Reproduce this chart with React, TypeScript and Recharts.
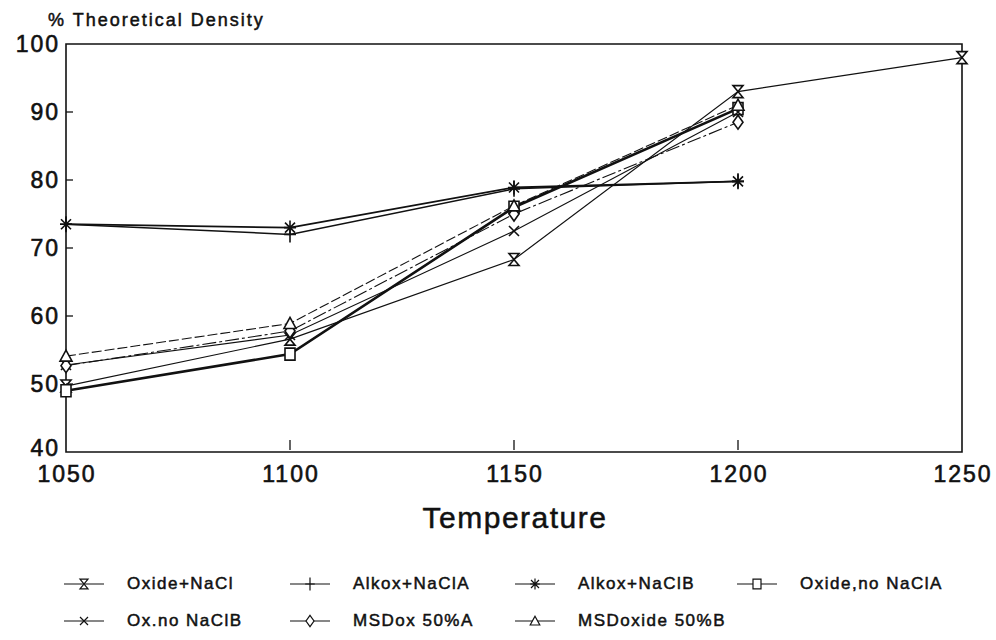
import { LineChart, Line, XAxis, YAxis, ReferenceArea } from "recharts";

const temps = [1050, 1100, 1150, 1200, 1250];
const yTicks = [40, 50, 60, 70, 80, 90, 100];

const oxideNaCl = [49.7, 56.6, 68.3, 93, 98];
const alkoxNaClA = [73.5, 72, 78.7, 79.8, null];
const alkoxNaClB = [73.5, 73, 78.9, 79.8, null];
const oxideNoNaClA = [49, 54.4, 76, 90.5, null];
const oxNoNaClB = [52.8, 57.2, 72.5, 90, null];
const msdox50A = [52.7, 57.8, 75, 88.5, null];
const msdoxide50B = [54.1, 58.9, 76.2, 91, null];

const seriesNames = [
  "Oxide+NaCl",
  "Alkox+NaClA",
  "Alkox+NaClB",
  "Oxide,no NaClA",
  "Ox.no NaClB",
  "MSDox 50%A",
  "MSDoxide 50%B",
];

const font = "'Liberation Sans', Arial, sans-serif";
const ink = "#111";

// marker glyphs, centred on 0,0
const markerPaths: Record<string, string> = {
  hourglass: "M-5,-6 L5,-6 L-5,6 L5,6 Z",
  plus: "M0,-8 V8 M-6,0 H6",
  star: "M0,-7 V7 M-6,0 H6 M-5,-5 L5,5 M-5,5 L5,-5",
  square: "M-5,-6 H5 V6 H-5 Z",
  cross: "M-5,-5 L5,5 M-5,5 L5,-5",
  diamond: "M0,-7 L5,0 L0,7 L-5,0 Z",
  triangle: "M0,-6 L6,5 L-6,5 Z",
};

const series = [
  { key: "oxideNaCl", values: oxideNaCl, marker: "hourglass", width: 1.2, dash: undefined },
  { key: "alkoxNaClA", values: alkoxNaClA, marker: "plus", width: 1.5, dash: undefined },
  { key: "alkoxNaClB", values: alkoxNaClB, marker: "star", width: 1.8, dash: undefined },
  { key: "oxideNoNaClA", values: oxideNoNaClA, marker: "square", width: 2.6, dash: undefined },
  { key: "oxNoNaClB", values: oxNoNaClB, marker: "cross", width: 1.1, dash: undefined },
  { key: "msdox50A", values: msdox50A, marker: "diamond", width: 1.1, dash: "14 3 3 3" },
  { key: "msdoxide50B", values: msdoxide50B, marker: "triangle", width: 1.1, dash: "10 3" },
];

const data = temps.map((t, i) => {
  const row: Record<string, number | null> = { temp: t };
  series.forEach((s) => (row[s.key] = s.values[i]));
  return row;
});

function makeDot(marker: string) {
  return (props: any) => {
    const { cx, cy, index, value } = props;
    if (value == null || cx == null || cy == null) return <g key={index} />;
    return (
      <path
        key={index}
        d={markerPaths[marker]}
        transform={`translate(${cx},${cy})`}
        fill="#fff"
        stroke={ink}
        strokeWidth={1.6}
      />
    );
  };
}

const tickText = { fontFamily: font, fontSize: 23, letterSpacing: 2, fill: ink, stroke: ink, strokeWidth: 0.6 };

function YTick(props: any) {
  const { x, y, payload } = props;
  const v = payload.value;
  return (
    <g>
      <text x={x + 2} y={y} dy={v === 40 ? 4 : 8} textAnchor="end" {...tickText}>
        {v}
      </text>
      {v > 40 && v < 100 && <line x1={x + 8} x2={x + 15} y1={y} y2={y} stroke={ink} strokeWidth={1.3} />}
    </g>
  );
}

function XTick(props: any) {
  const { x, y, payload } = props;
  const v = payload.value;
  return (
    <g>
      <text x={x + 1} y={y} dy={24} textAnchor="middle" {...tickText}>
        {v}
      </text>
      {v > 1050 && v < 1250 && <line x1={x} x2={x} y1={y - 8} y2={y - 18} stroke={ink} strokeWidth={1.3} />}
    </g>
  );
}

function LegendIcon({ marker }: { marker: string }) {
  return (
    <svg width={40} height={16} style={{ display: "block" }}>
      <line x1={0} x2={40} y1={8} y2={8} stroke={ink} strokeWidth={1.2} />
      <path d={markerPaths[marker]} transform="translate(20,8) scale(0.8)" fill="#fff" stroke={ink} strokeWidth={1.5} />
    </svg>
  );
}

const legendCols = [127, 353, 578, 800];
const heavy = { WebkitTextStroke: "0.5px #111" } as const;

export default function App() {
  return (
    <div style={{ position: "absolute", left: 0, top: 0, width: 996, height: 640, background: "#fff", fontFamily: font, color: ink }}>
      <div style={{ position: "absolute", left: 48, top: 10, fontSize: 18, letterSpacing: 2, ...heavy }}>% Theoretical Density</div>
      <LineChart width={996} height={640} data={data} margin={{ top: 44, right: 34, bottom: 158, left: 6 }}>
        <XAxis
          dataKey="temp"
          type="number"
          domain={[1050, 1250]}
          ticks={temps}
          tick={<XTick />}
          tickSize={0}
          tickMargin={6}
          axisLine={false}
          height={30}
        />
        <YAxis
          type="number"
          domain={[40, 100]}
          ticks={yTicks}
          tick={<YTick />}
          tickSize={0}
          tickMargin={8}
          axisLine={false}
          width={60}
        />
        <ReferenceArea x1={1050} x2={1250} y1={40} y2={100} fill="none" stroke={ink} strokeWidth={1.6} />
        {series.map((s) => (
          <Line
            key={s.key}
            dataKey={s.key}
            type="linear"
            stroke={ink}
            strokeWidth={s.width}
            strokeDasharray={s.dash}
            dot={makeDot(s.marker)}
            activeDot={false}
            connectNulls={false}
            isAnimationActive={false}
          />
        ))}
      </LineChart>
      <div style={{ position: "absolute", left: 0, width: 996, top: 501, textAlign: "center", fontSize: 30, letterSpacing: 1.5, transform: "translateX(17px)", ...heavy }}>
        Temperature
      </div>
      {series.map((s, i) => {
        const row = i < 4 ? 0 : 1;
        const col = i < 4 ? i : i - 4;
        const left = legendCols[col];
        const top = row === 0 ? 573 : 610;
        return (
          <div key={s.key} style={{ position: "absolute", left: left - 63, top, display: "flex", alignItems: "center", height: 22 }}>
            <LegendIcon marker={s.marker} />
            <span style={{ marginLeft: 23, fontSize: 17, letterSpacing: 1.5, whiteSpace: "nowrap", ...heavy }}>{seriesNames[i]}</span>
          </div>
        );
      })}
    </div>
  );
}
